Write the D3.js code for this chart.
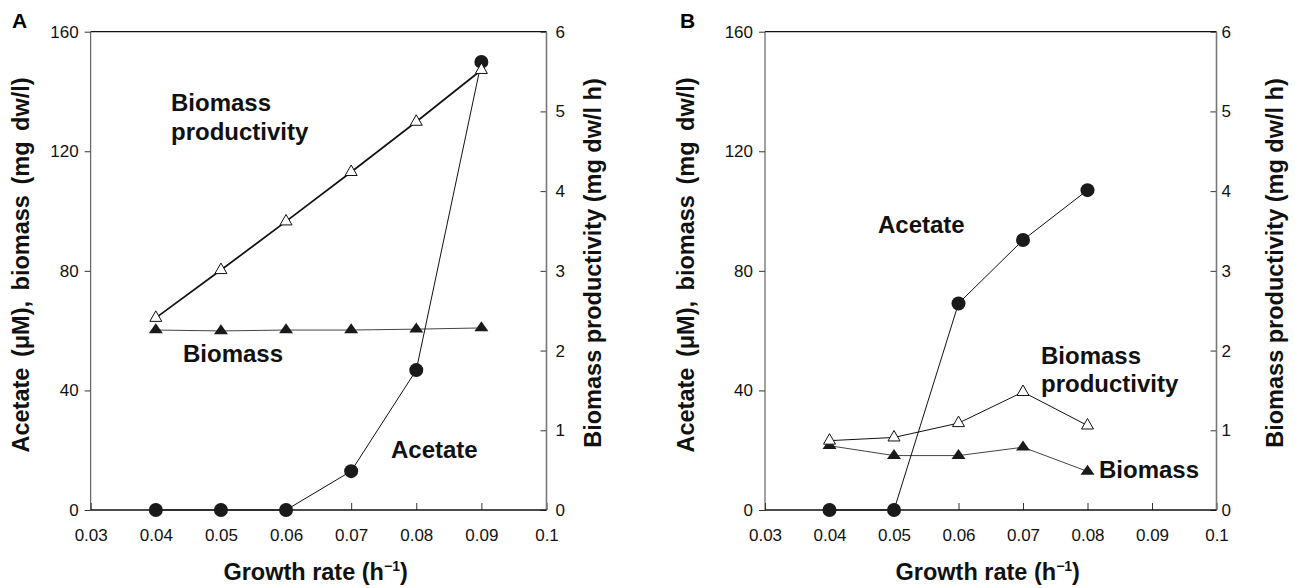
<!DOCTYPE html>
<html>
<head>
<meta charset="utf-8">
<script src="https://cdn.jsdelivr.net/npm/d3@7"></script>
<style>
  body { margin: 0; background: #fff; }
  svg { font-family: "Liberation Sans", Arial, sans-serif; }
  .tick text { font-size: 17px; fill: #111; }
  .tick line { stroke: #333; }
  .title { font-size: 23.5px; font-weight: bold; fill: #111; }
  .note { font-size: 24px; font-weight: bold; fill: #111; }
</style>
</head>
<body>
<svg id="chart" width="1295" height="588"></svg>
<script>
// tick values
const xTicks = [0.03, 0.04, 0.05, 0.06, 0.07, 0.08, 0.09, 0.1];
const leftTicks = [0, 40, 80, 120, 160];
const rightTicks = [0, 1, 2, 3, 4, 5, 6];

// panel A
const growthA = [0.04, 0.05, 0.06, 0.07, 0.08, 0.09];
const acetateA = [0, 0, 0, 13.0, 46.8, 149.9];
const biomassA = [60.2, 59.9, 60.2, 60.2, 60.5, 60.9];
const productivityA = [2.41, 3.01, 3.62, 4.24, 4.87, 5.52];

// panel B
const growthB = [0.04, 0.05, 0.06, 0.07, 0.08];
const acetateB = [0, 0, 69.1, 90.3, 107.0];
const biomassB = [21.5, 18.2, 18.2, 21.0, 12.9];
const productivityB = [0.87, 0.91, 1.09, 1.48, 1.06];

const svg = d3.select('#chart');
const plotTop = 31.7, plotBottom = 510;

// triangle centred on its centroid
function triangle(w, h) {
    return `M0,${-2 * h / 3}L${w / 2},${h / 3}L${-w / 2},${h / 3}Z`;
}

function drawPanel(cfg) {
    const x = d3.scaleLinear().domain([0.03, 0.1]).range([cfg.left, cfg.right]);
    const yL = d3.scaleLinear().domain([0, 160]).range([plotBottom, plotTop]);
    const yR = d3.scaleLinear().domain([0, 6]).range([plotBottom, plotTop]);
    const g = svg.append('g');

    // axes
    g.append('g')
        .attr('transform', `translate(${cfg.left},0)`)
        .call(d3.axisLeft(yL).tickValues(leftTicks).tickSize(6).tickPadding(6))
        .call(a => a.select('.domain').remove());

    g.append('g')
        .attr('transform', `translate(${cfg.right},0)`)
        .call(d3.axisRight(yR).tickValues(rightTicks).tickSize(-6).tickPadding(cfg.rightPad)
            .tickFormat(d3.format('d')))
        .call(a => a.select('.domain').remove());

    g.append('g')
        .attr('transform', `translate(0,${plotBottom})`)
        .call(d3.axisBottom(x).tickValues(xTicks).tickSize(-7).tickPadding(19)
            .tickFormat(d => d === 0.1 ? '0.1' : d3.format('.2f')(d)))
        .call(a => a.select('.domain').remove());

    // frame
    g.append('line').attr('x1', cfg.left).attr('x2', cfg.right).attr('y1', plotTop).attr('y2', plotTop)
        .attr('stroke', '#111').attr('stroke-width', 1.2);
    g.append('line').attr('x1', cfg.left).attr('x2', cfg.left).attr('y1', plotTop).attr('y2', plotBottom)
        .attr('stroke', '#444').attr('stroke-width', 1);
    g.append('line').attr('x1', cfg.right).attr('x2', cfg.right).attr('y1', plotTop).attr('y2', plotBottom)
        .attr('stroke', '#777').attr('stroke-width', 1.6);
    g.append('line').attr('x1', cfg.left).attr('x2', cfg.right).attr('y1', plotBottom).attr('y2', plotBottom)
        .attr('stroke', '#111').attr('stroke-width', 1.5);

    const acetate = cfg.growth.map((d, i) => [x(d), yL(cfg.acetate[i])]);
    const biomass = cfg.growth.map((d, i) => [x(d), yL(cfg.biomass[i])]);
    const prod = cfg.growth.map((d, i) => [x(d), yR(cfg.productivity[i])]);
    const line = d3.line();

    g.append('path').attr('d', line(biomass)).attr('fill', 'none')
        .attr('stroke', '#444').attr('stroke-width', 1);
    g.append('path').attr('d', line(acetate)).attr('fill', 'none')
        .attr('stroke', '#111').attr('stroke-width', 1);
    g.append('path').attr('d', line(prod)).attr('fill', 'none')
        .attr('stroke', '#111').attr('stroke-width', cfg.prodWidth);

    g.selectAll(null).data(acetate).join('circle')
        .attr('cx', d => d[0]).attr('cy', d => d[1]).attr('r', 7)
        .attr('fill', '#1a1a1a');
    g.selectAll(null).data(biomass).join('path')
        .attr('transform', d => `translate(${d[0]},${d[1]})`)
        .attr('d', triangle(14, 10)).attr('fill', '#1a1a1a');
    g.selectAll(null).data(prod).join('path')
        .attr('transform', d => `translate(${d[0]},${d[1]})`)
        .attr('d', triangle(12, 10.5)).attr('fill', '#fff').attr('stroke', '#111').attr('stroke-width', 1);

    // titles
    g.append('text').attr('class', 'title')
        .attr('transform', `translate(${cfg.leftTitleX},265) rotate(-90)`)
        .attr('text-anchor', 'middle').attr('word-spacing', 4)
        .text('Acetate (\u03bcM), biomass (mg dw/l)');
    g.append('text').attr('class', 'title')
        .attr('transform', `translate(${cfg.rightTitleX},263) rotate(-90)`)
        .attr('text-anchor', 'middle')
        .text('Biomass productivity (mg dw/l h)');

    const xt = g.append('text').attr('class', 'title')
        .attr('x', (cfg.left + cfg.right) / 2 - 3).attr('y', 580)
        .attr('text-anchor', 'middle');
    xt.append('tspan').text('Growth rate (h');
    xt.append('tspan').attr('font-size', 14).attr('dy', -9).text('\u22121');
    xt.append('tspan').attr('dy', 9).text(')');

    g.append('text').attr('x', cfg.letterX).attr('y', 28)
        .attr('font-size', 21).attr('font-weight', 'bold').text(cfg.letter);

    cfg.notes.forEach(n => {
        g.append('text').attr('class', 'note').attr('x', n[0]).attr('y', n[1]).text(n[2]);
    });
}

drawPanel({
    left: 90.7, right: 546.5, rightPad: 9, prodWidth: 1.7,
    growth: growthA, acetate: acetateA, biomass: biomassA, productivity: productivityA,
    leftTitleX: 29, rightTitleX: 601, letter: 'A', letterX: 12,
    notes: [[171, 111, 'Biomass'], [171, 140, 'productivity'], [183, 362, 'Biomass'], [391, 458, 'Acetate']]
});

drawPanel({
    left: 765, right: 1216.5, rightPad: 5, prodWidth: 1,
    growth: growthB, acetate: acetateB, biomass: biomassB, productivity: productivityB,
    leftTitleX: 694, rightTitleX: 1283, letter: 'B', letterX: 680,
    notes: [[878, 233, 'Acetate'], [1041, 364, 'Biomass'], [1041, 392, 'productivity'], [1099, 478, 'Biomass']]
});
</script>
</body>
</html>
